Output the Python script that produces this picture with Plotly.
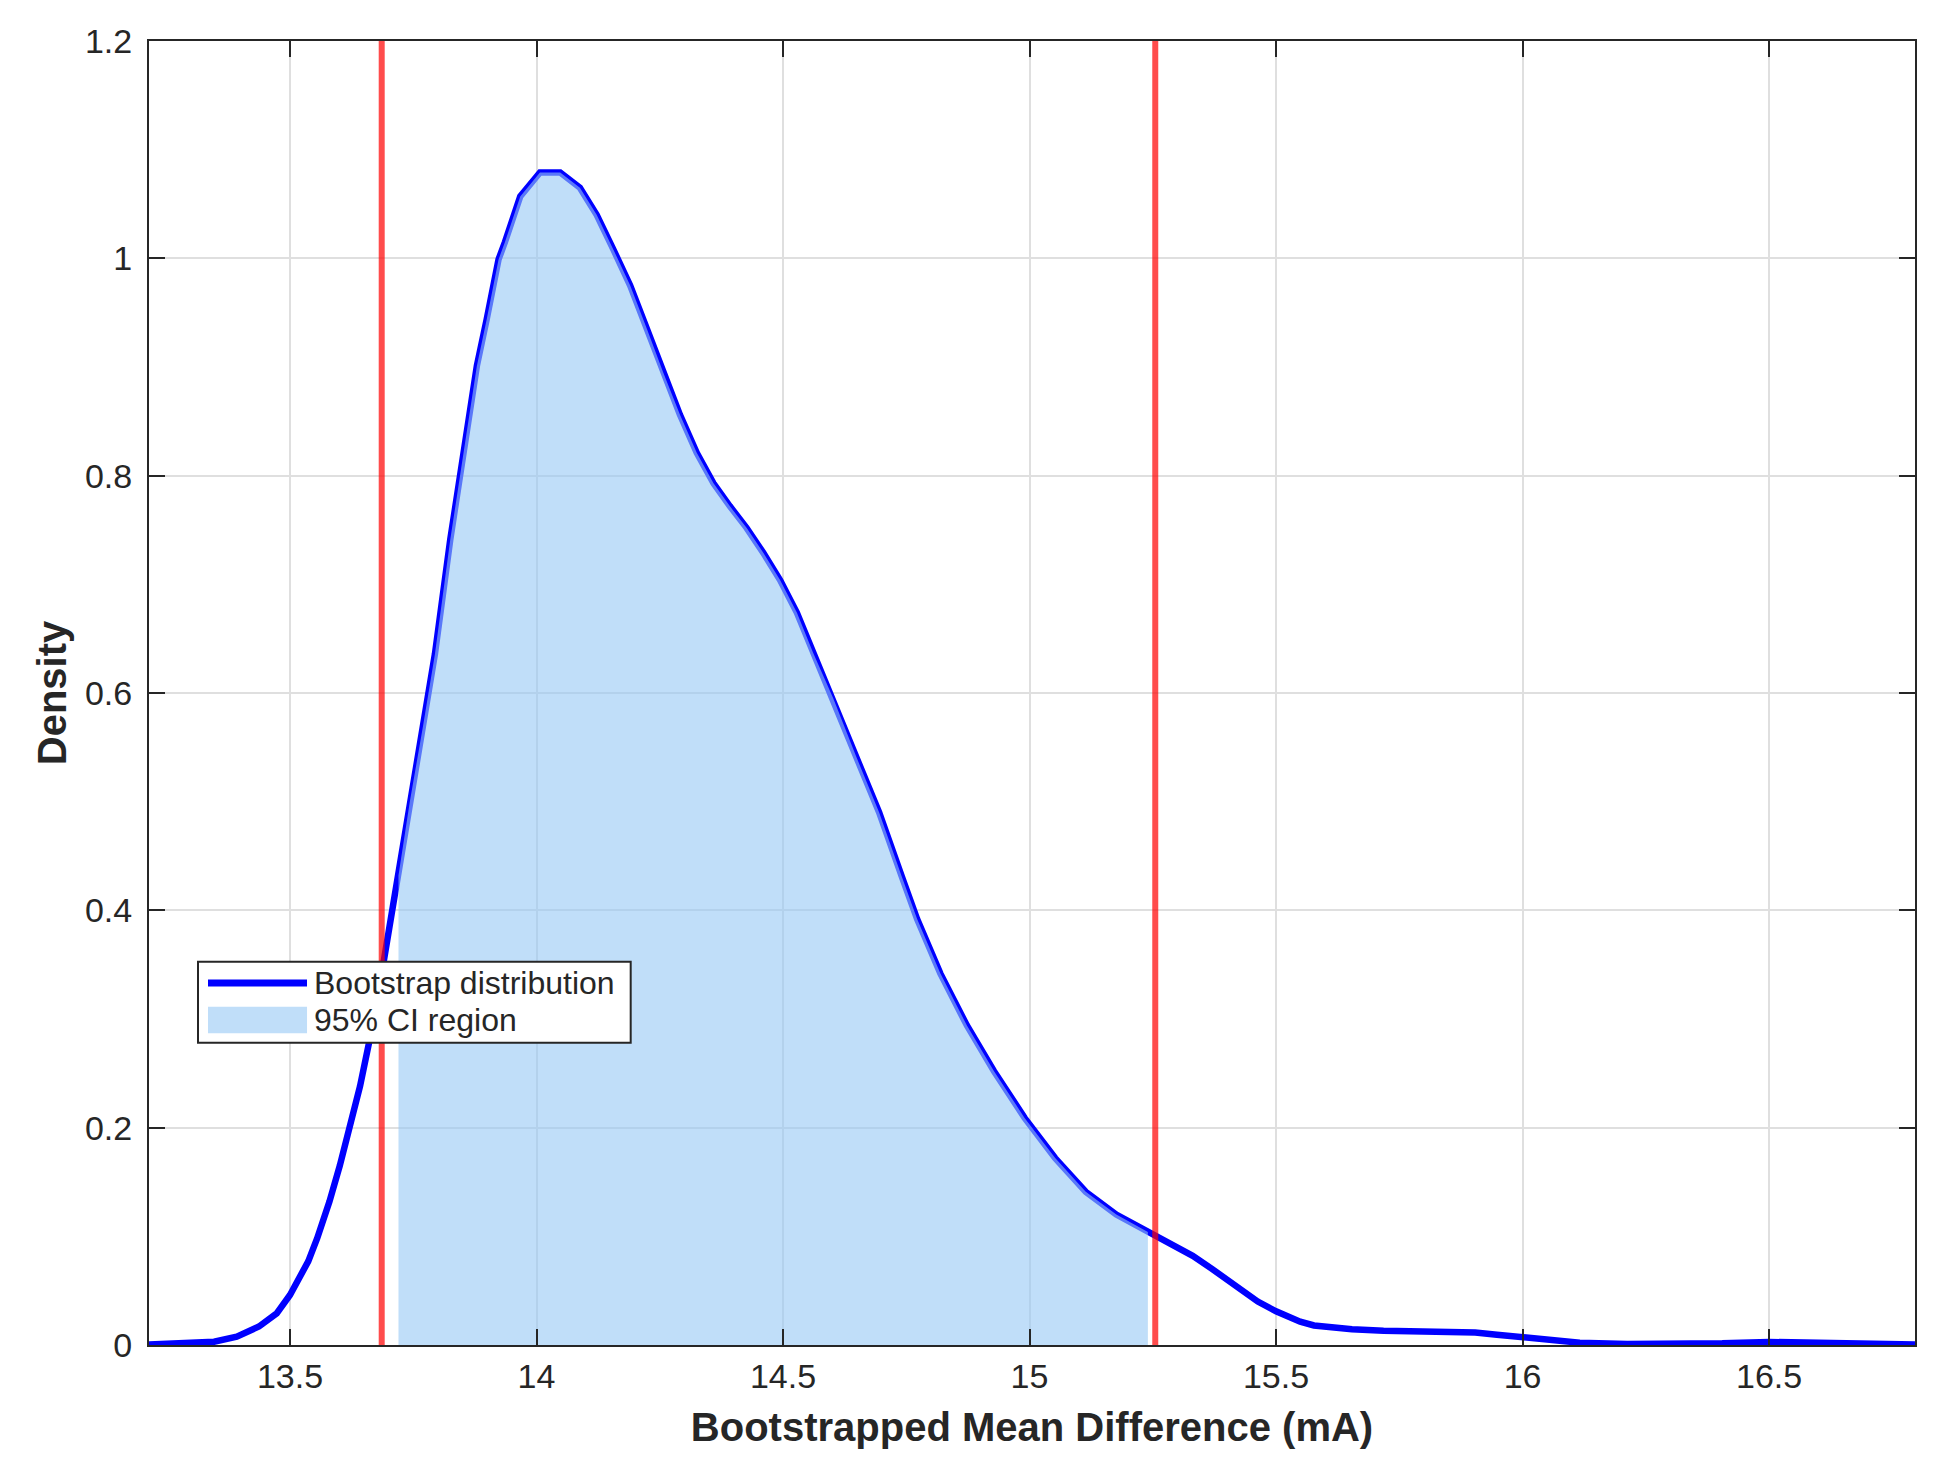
import plotly.graph_objects as go

# KDE of bootstrapped mean difference
x_vals = [13.214, 13.292, 13.346, 13.392, 13.437, 13.473, 13.500, 13.537, 13.555, 13.580,
          13.601, 13.642, 13.668, 13.689, 13.720, 13.743, 13.770, 13.794, 13.825, 13.852,
          13.879, 13.899, 13.923, 13.936, 13.967, 14.007, 14.048, 14.088, 14.122, 14.156,
          14.190, 14.224, 14.257, 14.291, 14.325, 14.359, 14.392, 14.426, 14.460, 14.494,
          14.528, 14.561, 14.602, 14.648, 14.695, 14.741, 14.772, 14.819, 14.873, 14.928,
          14.990, 15.052, 15.114, 15.176, 15.240, 15.290, 15.331, 15.370, 15.409, 15.463,
          15.500, 15.549, 15.577, 15.616, 15.654, 15.718, 15.779, 15.819, 15.904, 15.948,
          15.990, 16.039, 16.116, 16.212, 16.308, 16.405, 16.500, 16.597, 16.693, 16.796]
density = [0.0005, 0.0012, 0.003, 0.0077, 0.017, 0.029, 0.046, 0.077, 0.098, 0.132,
           0.165, 0.238, 0.295, 0.350, 0.432, 0.500, 0.570, 0.636, 0.741, 0.821,
           0.901, 0.944, 0.999, 1.015, 1.057, 1.079, 1.079, 1.065, 1.040, 1.008,
           0.975, 0.935, 0.895, 0.856, 0.821, 0.793, 0.772, 0.752, 0.729, 0.704,
           0.674, 0.637, 0.595, 0.542, 0.490, 0.431, 0.392, 0.342, 0.294, 0.252,
           0.209, 0.172, 0.141, 0.120, 0.104, 0.092, 0.082, 0.070, 0.058, 0.040,
           0.031, 0.0215, 0.018, 0.016, 0.0144, 0.013, 0.0129, 0.0120, 0.0115, 0.0095,
           0.008, 0.0052, 0.0021, 0.0009, 0.0006, 0.0015, 0.0028, 0.0021, 0.0009, 0.0005]

ci_bounds = [13.686, 15.255]      # 95% CI (red lines)
fill_bounds = [13.72, 15.24]      # KDE grid points inside CI
x_range = [13.214, 16.796]
y_range = [0, 1.2]
x_ticks = [13.5, 14, 14.5, 15, 15.5, 16, 16.5]
x_ticklabels = ["13.5", "14", "14.5", "15", "15.5", "16", "16.5"]
y_ticks = [0, 0.2, 0.4, 0.6, 0.8, 1.0, 1.2]
y_ticklabels = ["0", "0.2", "0.4", "0.6", "0.8", "1", "1.2"]
legend_labels = ["Bootstrap distribution", "95% CI region"]

fill_x = [x for x in x_vals if fill_bounds[0] - 1e-9 <= x <= fill_bounds[1] + 1e-9]
fill_y = [d for x, d in zip(x_vals, density) if fill_bounds[0] - 1e-9 <= x <= fill_bounds[1] + 1e-9]

FONT = "Liberation Sans, Arial, sans-serif"
AX = "#262626"
LINE_BLUE = "rgb(0,0,255)"
FILL = "rgba(150,200,245,0.6)"

fig = go.Figure()
fig.add_trace(go.Scatter(x=x_vals, y=density, mode="lines",
                         line=dict(color=LINE_BLUE, width=6.5),
                         name=legend_labels[0], showlegend=False))
fig.add_trace(go.Scatter(x=fill_x, y=fill_y, mode="none", fill="tozeroy",
                         fillcolor=FILL, name=legend_labels[1], showlegend=False))

for c in ci_bounds:
    fig.add_shape(type="line", xref="x", yref="paper", x0=c, x1=c, y0=0, y1=1,
                  line=dict(color="rgba(255,0,0,0.7)", width=6), layer="above")

# legend box (drawn in paper coordinates, like the reference's boxed legend)
fig.add_shape(type="rect", xref="paper", yref="paper",
              x0=0.02775, x1=0.27276, y0=0.23183, y1=0.29394,
              fillcolor="white", line=dict(color=AX, width=2), layer="above")
fig.add_shape(type="line", xref="paper", yref="paper",
              x0=0.03341, x1=0.08947, y0=0.27761, y1=0.27761,
              line=dict(color=LINE_BLUE, width=7), layer="above")
fig.add_shape(type="rect", xref="paper", yref="paper",
              x0=0.03341, x1=0.08947, y0=0.23903, y1=0.25943,
              fillcolor=FILL, line=dict(width=0), layer="above")
for lbl, yy in zip(legend_labels, [0.27738, 0.24923]):
    fig.add_annotation(text=lbl, xref="paper", yref="paper", x=0.0925, y=yy,
                       xanchor="left", yanchor="middle", showarrow=False,
                       font=dict(family=FONT, size=32, color=AX))

axis_common = dict(showline=True, linecolor=AX, linewidth=2, mirror="ticks",
                   ticks="inside", ticklen=16, tickwidth=2, tickcolor=AX,
                   showgrid=True, gridcolor="rgb(223,223,223)", gridwidth=1.5,
                   zeroline=False,
                   tickfont=dict(family=FONT, size=34, color=AX))

fig.update_xaxes(range=x_range, tickvals=x_ticks, ticktext=x_ticklabels,
                 title=dict(text="<b>Bootstrapped Mean Difference (mA)</b>",
                            font=dict(family=FONT, size=40, color=AX), standoff=19),
                 **axis_common)
fig.update_yaxes(range=y_range, tickvals=y_ticks, ticktext=y_ticklabels,
                 ticklabelstandoff=8,
                 title=dict(text="<b>Density</b>",
                            font=dict(family=FONT, size=40, color=AX), standoff=6),
                 **axis_common)

fig.update_layout(
    width=1944, height=1475,
    margin=dict(l=149, r=29, t=41, b=130, autoexpand=False),
    paper_bgcolor="white", plot_bgcolor="white",
    showlegend=False,
)

fig.write_html("out.html")
